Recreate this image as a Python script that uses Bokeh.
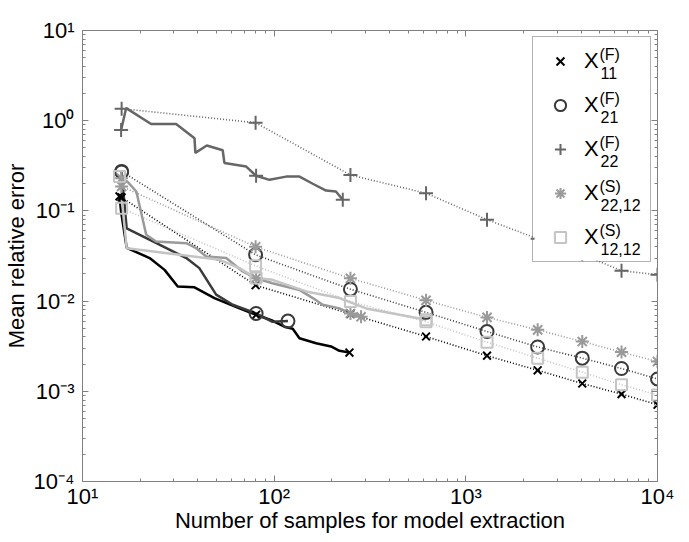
from bokeh.plotting import figure
from bokeh.models import (LogAxis, LogTicker, CustomJSTickFormatter, Legend, LegendItem, ColumnDataSource,
                          BoxAnnotation)
from bokeh.core.properties import value
from bokeh.embed import file_html
from bokeh.resources import INLINE

FONT = "Liberation Sans"

# ---------------- data ----------------
SERIES = ["X11F", "X21F", "X22F", "X2212S", "X1212S"]

# fixed sample sizes (dotted curves)
N_FIXED = [16, 80, 250, 620, 1290, 2370, 4050, 6490, 10000]
X11_FIXED = [0.141, 0.0150, 0.0072, 0.00405, 0.00248, 0.00171, 0.00122, 0.00093, 0.00071]
X21_FIXED = [0.274, 0.0326, 0.01355, 0.0075, 0.0046, 0.0031, 0.00233, 0.00179, 0.00137]
X22_FIXED = [1.36, 0.95, 0.25, 0.157, 0.080, 0.049, 0.033, 0.0217, 0.0196]
X2212_FIXED = [0.187, 0.040, 0.0179, 0.0102, 0.0066, 0.0048, 0.00356, 0.00272, 0.00214]
X1212_FIXED = [0.107, 0.0246, 0.0099, 0.0059, 0.0035, 0.00233, 0.00163, 0.00118, 0.00091]

# adaptive extraction (solid curves)
X11_N = [15.6, 15.9, 17.0, 22.4, 26.8, 31.4, 38.4, 48.8, 65.9, 80.5, 98.3, 113, 125, 135.5, 165.5, 198, 219, 247]
X11_E = [0.145, 0.098, 0.039, 0.030, 0.0222, 0.0145, 0.0142, 0.0108, 0.0083, 0.00705, 0.00605, 0.0052, 0.00493,
         0.00388, 0.00341, 0.00314, 0.00281, 0.00269]
X11_MARK = [0, 9, 17]

X21_N = [16, 16.2, 17.0, 23.3, 34.8, 40.7, 49.8, 60.8, 80.5, 98, 118]
X21_E = [0.27, 0.2, 0.064, 0.0458, 0.030, 0.0232, 0.0118, 0.0091, 0.0073, 0.0059, 0.0060]
X21_MARK = [0, 8, 10]

X22_N = [15.9, 16.9, 22.8, 30.8, 38.4, 38.8, 44.5, 53.9, 55, 71.5, 80.5, 94.5, 115.5, 135.6, 159, 186.5, 210, 228]
X22_E = [0.79, 1.38, 0.92, 0.92, 0.64, 0.44, 0.53, 0.47, 0.34, 0.31, 0.245, 0.221, 0.240, 0.240, 0.20, 0.168,
         0.164, 0.133]
X22_MARK = [0, 10, 17]

X2212_N = [16, 17.2, 19.1, 21.5, 24.2, 34.8, 39.2, 44.2, 56.2, 68.5, 80.5, 98, 135.5, 159, 179.4, 219, 250, 284]
X2212_E = [0.23, 0.21, 0.164, 0.0543, 0.0458, 0.0438, 0.0386, 0.0312, 0.030, 0.0213, 0.0179, 0.0158, 0.0133,
           0.0108, 0.0091, 0.0083, 0.0073, 0.0067]
X2212_MARK = [0, 10, 16, 17]

X1212_N = [15.6, 17.0, 19.8, 32.1, 51.9, 65.9, 80.5, 98, 147, 219, 302, 451, 621]
X1212_E = [0.24, 0.0386, 0.037, 0.0326, 0.0287, 0.0232, 0.018, 0.0172, 0.0128, 0.0108, 0.0083, 0.00705, 0.0062]
X1212_MARK = [0, 6, 12]

LEGEND_SUP = ["(F)", "(F)", "(F)", "(S)", "(S)"]
LEGEND_SUB = ["11", "21", "22", "22,12", "12,12"]

COLORS = ["#000000", "#3a3a3a", "#666666", "#9a9a9a", "#c4c4c4"]
MARKERS = ["x", "circle", "cross", "asterisk", "square"]
MSIZES = [11, 13, 14, 13, 11]

fixed = [X11_FIXED, X21_FIXED, X22_FIXED, X2212_FIXED, X1212_FIXED]
solid = [(X11_N, X11_E, X11_MARK), (X21_N, X21_E, X21_MARK), (X22_N, X22_E, X22_MARK),
         (X2212_N, X2212_E, X2212_MARK), (X1212_N, X1212_E, X1212_MARK)]

# ---------------- figure ----------------
FW, FH = 575, 451
p = figure(x_axis_type="log", y_axis_type="log", x_range=(10, 1e4), y_range=(1e-4, 10),
           frame_width=FW, frame_height=FH, min_border_left=75, min_border_right=20,
           min_border_top=30, min_border_bottom=40, output_backend="svg", toolbar_location=None)
p.xgrid.visible = False
p.ygrid.visible = False
p.outline_line_color = "#808080"
p.background_fill_color = "white"
p.border_fill_color = "white"

fmt_js = """
const sup = {"0":"\u2070","1":"\u00b9","2":"\u00b2","3":"\u00b3","4":"\u2074","-":"\u207b"};
const e = Math.round(Math.log10(tick));
return "10" + String(e).split("").map(c => sup[c]).join("");
"""

def style_axis(ax, labels=True):
    ax.axis_line_color = "#808080"
    ax.major_tick_line_color = "#808080"
    ax.minor_tick_line_color = "#808080"
    ax.major_tick_in = 6
    ax.major_tick_out = 0
    ax.minor_tick_in = 3
    ax.minor_tick_out = 0
    ax.ticker = LogTicker(desired_num_ticks=6, num_minor_ticks=10)
    if labels:
        ax.formatter = CustomJSTickFormatter(code=fmt_js)
        ax.major_label_text_font = FONT
        ax.major_label_text_font_size = "22px"
        ax.major_label_text_color = "black"
        ax.axis_label_text_font = FONT
        ax.axis_label_text_font_size = "22px"
        ax.axis_label_text_font_style = "normal"
        ax.axis_label_text_color = "black"
    else:
        ax.formatter = CustomJSTickFormatter(code="return '';")
        ax.major_label_text_font_size = "0px"

xax = p.xaxis[0]
yax = p.yaxis[0]
style_axis(xax)
style_axis(yax)
xax.axis_label = "Number of samples for model extraction"
yax.axis_label = "Mean relative error"
xax.major_label_standoff = 2
xax.axis_label_standoff = -4
yax.major_label_standoff = 8
yax.axis_label_standoff = 2

top_ax = LogAxis()
right_ax = LogAxis()
style_axis(top_ax, labels=False)
style_axis(right_ax, labels=False)
p.add_layout(top_ax, "above")
p.add_layout(right_ax, "right")

legend_renderers = []
for i in range(5):
    c = COLORS[i]
    p.line(N_FIXED, fixed[i], line_color=c, line_width=1.6, line_dash="1 2")
for i in range(5):
    c = COLORS[i]
    n, e, idx = solid[i]
    p.line(n, e, line_color=c, line_width=2.5)
for i in range(5):
    c = COLORS[i]
    n, e, idx = solid[i]
    p.scatter(N_FIXED, fixed[i], marker=MARKERS[i], size=MSIZES[i], line_color=c, fill_color=None,
              line_width=2)
    r = p.scatter([n[k] for k in idx], [e[k] for k in idx], marker=MARKERS[i], size=MSIZES[i],
                  line_color=c, fill_color=None, line_width=2)
    legend_renderers.append(r)

# legend geometry (frame pixels)
L_MARGIN, L_PAD, L_SPACING = 6, 10, 16
L_GW, L_GH, L_LW, L_STAND = 34, 28, 56, 7
L_W = 2 * L_PAD + L_GW + L_STAND + L_LW
L_H = 2 * L_PAD + 5 * L_GH + 4 * L_SPACING

def frame_px(px, py):
    return 10 ** (1 + 3 * px / FW), 10 ** (1 - 5 * py / FH)

# white legend background (under the legend texts, above the curves)
bl, bt = frame_px(FW - L_MARGIN - L_W, L_MARGIN)
br, bb = frame_px(FW - L_MARGIN, L_MARGIN + L_H)
p.add_layout(BoxAnnotation(left=bl, right=br, top=bt, bottom=bb, fill_color="white", fill_alpha=1.0,
                           line_color=None, level="glyph"))

legend = Legend(items=[LegendItem(label="X", renderers=[legend_renderers[i]]) for i in range(5)],
                location="top_right", margin=L_MARGIN, padding=L_PAD, spacing=L_SPACING,
                glyph_width=L_GW, glyph_height=L_GH, label_height=L_GH, label_width=L_LW,
                label_standoff=L_STAND,
                label_text_font=FONT, label_text_font_size="22px", label_text_color="black",
                border_line_color="#666666", border_line_width=1, background_fill_alpha=0.0,
                level="annotation")
p.add_layout(legend, "center")

# sub/superscripts of the legend entries
sup_x, sup_y, sub_x, sub_y = [], [], [], []
for i in range(5):
    row_c = L_MARGIN + L_PAD + L_GH / 2 + (L_GH + L_SPACING) * i
    sx, sy = frame_px(517, row_c - 6)
    bx, by = frame_px(518, row_c + 12)
    sup_x.append(sx); sup_y.append(sy); sub_x.append(bx); sub_y.append(by)

sup_src = ColumnDataSource(dict(x=sup_x, y=sup_y, t=LEGEND_SUP))
sub_src = ColumnDataSource(dict(x=sub_x, y=sub_y, t=LEGEND_SUB))
for src in (sup_src, sub_src):
    p.text(x="x", y="y", text="t", source=src, text_font=value(FONT), text_font_size="16px",
           text_baseline="middle", text_align="left", text_color="black", level="overlay")

open("out.html", "w").write(file_html(p, INLINE))
